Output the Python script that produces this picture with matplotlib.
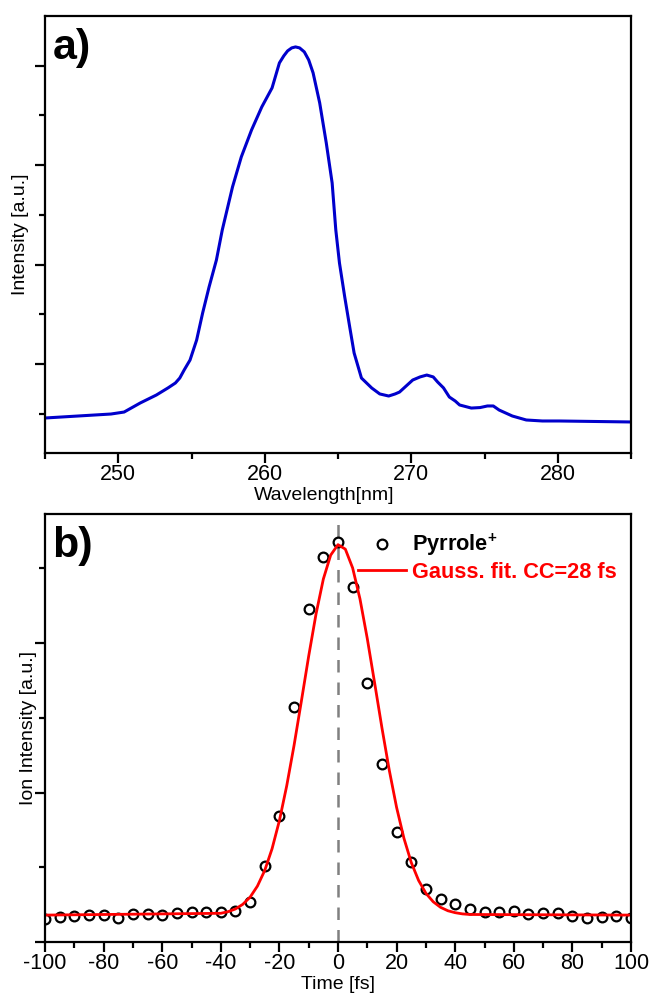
import matplotlib
matplotlib.use('Agg')
import matplotlib.pyplot as plt
from matplotlib.ticker import FixedLocator, NullFormatter

plt.rcParams['font.family'] = ['Liberation Sans', 'DejaVu Sans']
plt.rcParams['axes.unicode_minus'] = False
plt.rcParams['mathtext.fontset'] = 'custom'
plt.rcParams['mathtext.rm'] = 'Liberation Sans'
plt.rcParams['mathtext.bf'] = 'Liberation Sans:bold'

# panel a) spectrum
wavelength = [245.0, 249.5, 250.4, 251.5, 252.6, 253.4, 253.9, 254.2, 254.5, 254.9,
              255.35, 255.76, 256.2, 256.7, 257.1, 257.8, 258.4, 259.1, 259.8, 260.5,
              261.0, 261.3, 261.56, 261.84, 262.1, 262.38, 262.7, 263.0, 263.3, 263.75,
              264.2, 264.6, 264.85, 265.1, 265.46, 265.8, 266.1, 266.6, 267.3, 267.85,
              268.46, 268.9, 269.2, 270.1, 270.6, 271.06, 271.5, 271.8, 272.2, 272.6,
              273.0, 273.3, 274.1, 274.7, 275.2, 275.6, 276.0, 276.9, 277.85, 278.95,
              280.1, 285.0]
intensity = [0.457, 0.497, 0.517, 0.608, 0.688, 0.760, 0.809, 0.859, 0.940, 1.040,
             1.241, 1.513, 1.775, 2.046, 2.348, 2.781, 3.083, 3.354, 3.586, 3.777,
             4.028, 4.099, 4.149, 4.179, 4.189, 4.179, 4.139, 4.058, 3.928, 3.626,
             3.223, 2.821, 2.348, 2.016, 1.674, 1.372, 1.111, 0.859, 0.759, 0.699,
             0.678, 0.699, 0.718, 0.839, 0.870, 0.889, 0.870, 0.819, 0.760, 0.668,
             0.628, 0.588, 0.557, 0.562, 0.578, 0.578, 0.537, 0.477, 0.437, 0.427,
             0.427, 0.417]

# panel b) pyrrole+ ion signal vs delay
delay = list(range(-100, 105, 5))
ion_signal = [0.154, 0.167, 0.174, 0.181, 0.181, 0.161, 0.187, 0.187, 0.181, 0.194,
              0.201, 0.201, 0.201, 0.207, 0.268, 0.508, 0.843, 1.572, 2.227, 2.575,
              2.676, 2.375, 1.732, 1.191, 0.736, 0.535, 0.355, 0.288, 0.254, 0.221,
              0.201, 0.201, 0.207, 0.187, 0.194, 0.194, 0.174, 0.161, 0.167, 0.174, 0.161]

# gaussian fit curve
fit_time = [-100, -40, -37.5, -35, -32.5, -30, -27.5, -25, -22.5, -20, -17.5, -15, -12.5,
            -10, -7.5, -5, -2.5, 0, 2.5, 5, 7.5, 10, 12.5, 15, 17.5, 20, 22.5, 25, 27.5,
            30, 32.5, 35, 37.5, 40, 42.5, 45, 100]
fit_signal = [0.18, 0.192, 0.203, 0.221, 0.252, 0.300, 0.374, 0.479, 0.624, 0.812, 1.045,
              1.315, 1.611, 1.913, 2.194, 2.428, 2.588, 2.658, 2.628, 2.502, 2.295, 2.029,
              1.733, 1.432, 1.149, 0.900, 0.694, 0.532, 0.412, 0.326, 0.269, 0.232, 0.209,
              0.196, 0.188, 0.184, 0.18]

W, H = 649, 994
fig = plt.figure(figsize=(W / 100, H / 100), dpi=100)
ax1 = fig.add_axes([45 / W, 1 - 453 / H, 586 / W, 437 / H])
ax2 = fig.add_axes([45 / W, 1 - 942 / H, 586 / W, 428 / H])

tick_fs = 15.5
label_fs = 14
ylab_fs = 14


def style_axes(ax):
    for sp in ax.spines.values():
        sp.set_linewidth(1.6)
    ax.tick_params(which='both', direction='out', width=1.6, top=False, right=False,
                   labelsize=tick_fs, pad=0.5)
    ax.tick_params(which='major', length=7.5)
    ax.tick_params(which='minor', length=4.5)
    ax.yaxis.set_major_formatter(NullFormatter())


# ---- a) ----
ax1.plot(wavelength, intensity, color='#0000cc', lw=2.2)
ax1.set_xlim(245, 285)
ax1.set_ylim(0.105, 4.5)
ax1.xaxis.set_major_locator(FixedLocator([250, 260, 270, 280]))
ax1.xaxis.set_minor_locator(FixedLocator([245, 255, 265, 275, 285]))
ax1.yaxis.set_major_locator(FixedLocator([1, 2, 3, 4]))
ax1.yaxis.set_minor_locator(FixedLocator([0.5, 1.5, 2.5, 3.5]))
style_axes(ax1)
ax1.set_xlabel('Wavelength[nm]', fontsize=label_fs)
ax1.xaxis.set_label_coords(0.476, -0.078)
ax1.set_ylabel('Intensity [a.u.]', fontsize=ylab_fs)
ax1.yaxis.set_label_coords(-0.027, 0.5)
ax1.text(0.013, 0.972, 'a)', transform=ax1.transAxes, fontsize=31, fontweight='bold',
         va='top', ha='left')

# ---- b) ----
ax2.axvline(0, color='#808080', lw=1.8, linestyle=(0, (5, 4)))
ax2.plot(delay, ion_signal, 'o', mfc='none', mec='black', ms=7, mew=1.6,
         label=r'$\mathbf{Pyrrole}^{\mathbf{+}}$')
ax2.plot(fit_time, fit_signal, color='red', lw=2.0, label='Gauss. fit. CC=28 fs')
ax2.set_xlim(-100, 100)
ax2.set_ylim(0, 2.863)
ax2.xaxis.set_major_locator(FixedLocator(list(range(-100, 101, 20))))
ax2.xaxis.set_minor_locator(FixedLocator(list(range(-90, 100, 20))))
ax2.yaxis.set_major_locator(FixedLocator([0, 1, 2]))
ax2.yaxis.set_minor_locator(FixedLocator([0.5, 1.5, 2.5]))
style_axes(ax2)
ax2.set_xlabel('Time [fs]', fontsize=label_fs)
ax2.xaxis.set_label_coords(0.5, -0.079)
ax2.set_ylabel('Ion Intensity [a.u.]', fontsize=ylab_fs)
ax2.yaxis.set_label_coords(-0.014, 0.5)
ax2.text(0.013, 0.972, 'b)', transform=ax2.transAxes, fontsize=31, fontweight='bold',
         va='top', ha='left')

leg = ax2.legend(loc='upper left', bbox_to_anchor=(358 / W, 1 - 532 / H),
                 bbox_transform=fig.transFigure, frameon=False,
                 handlelength=2.2, handletextpad=0.27, labelspacing=0.15,
                 borderpad=0, borderaxespad=0, prop={'weight': 'bold', 'size': 15.7})
for txt, col in zip(leg.get_texts(), ['black', 'red']):
    txt.set_color(col)

fig.savefig('out.png', dpi=100)
